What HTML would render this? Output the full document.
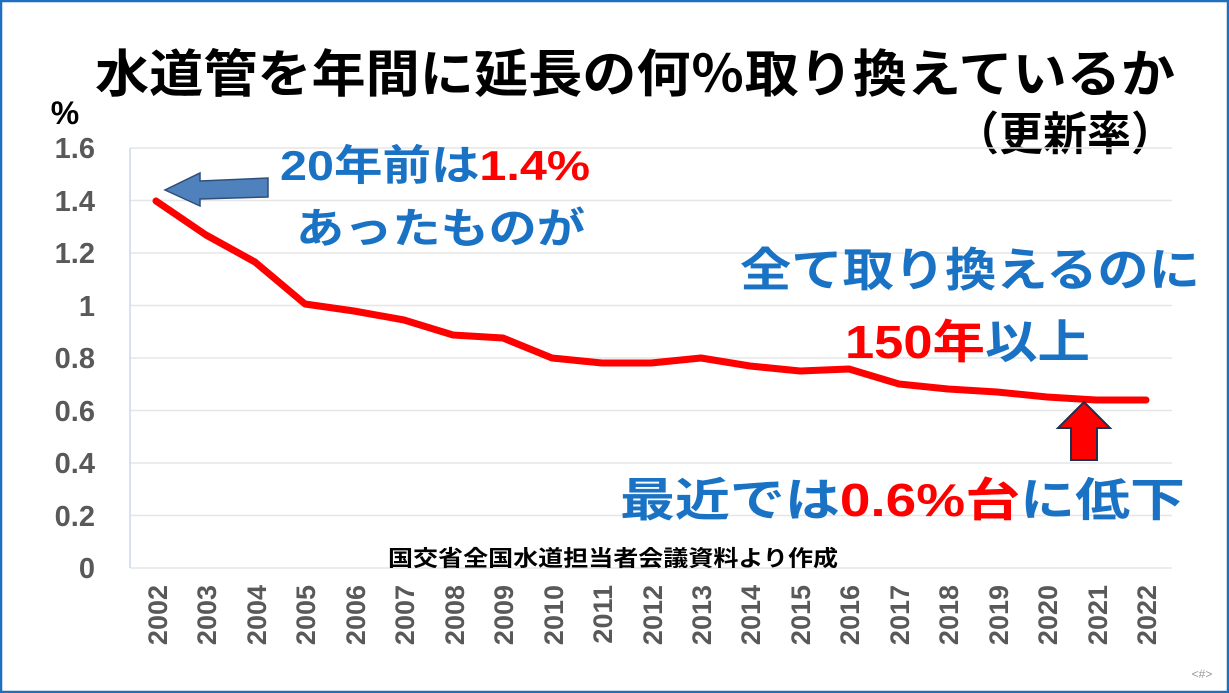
<!DOCTYPE html>
<html><head><meta charset="utf-8"><style>
html,body{margin:0;padding:0;background:#fff}
svg{display:block}
text{font-family:"Liberation Sans","Noto Sans CJK JP",sans-serif;font-weight:bold}
</style></head><body>
<svg width="1229" height="693" viewBox="0 0 1229 693">
<rect x="1" y="1" width="1227" height="691" fill="#fff" stroke="#1f6fc0" stroke-width="2.5"/>
<text x="95" y="92" font-size="51" fill="#000" textLength="1080" lengthAdjust="spacingAndGlyphs">水道管を年間に延長の何％取り換えているか</text>
<text x="955" y="150" font-size="46" fill="#000" textLength="220" lengthAdjust="spacingAndGlyphs">（更新率）</text>
<text x="65" y="124" font-size="32" text-anchor="middle" fill="#000">%</text>
<g stroke="#e6e6e6" stroke-width="1.5">
<line x1="130" y1="148" x2="1172" y2="148"/><line x1="130" y1="200.5" x2="1172" y2="200.5"/>
<line x1="130" y1="253" x2="1172" y2="253"/><line x1="130" y1="305.5" x2="1172" y2="305.5"/>
<line x1="130" y1="358" x2="1172" y2="358"/><line x1="130" y1="410.5" x2="1172" y2="410.5"/>
<line x1="130" y1="463" x2="1172" y2="463"/><line x1="130" y1="515.5" x2="1172" y2="515.5"/>
<line x1="130" y1="568" x2="1172" y2="568"/>
</g>
<line x1="130" y1="148" x2="130" y2="568" stroke="#c8d8ec" stroke-width="1.5"/>
<g font-size="29" fill="#595959" text-anchor="end">
<text x="95" y="158">1.6</text><text x="95" y="211">1.4</text><text x="95" y="263">1.2</text>
<text x="95" y="316">1</text><text x="95" y="368">0.8</text><text x="95" y="421">0.6</text>
<text x="95" y="473">0.4</text><text x="95" y="526">0.2</text><text x="95" y="578">0</text>
</g>
<g font-size="27" fill="#595959" text-anchor="end">
<text transform="translate(167,585) rotate(-90)">2002</text>
<text transform="translate(216,585) rotate(-90)">2003</text>
<text transform="translate(266,585) rotate(-90)">2004</text>
<text transform="translate(315,585) rotate(-90)">2005</text>
<text transform="translate(365,585) rotate(-90)">2006</text>
<text transform="translate(414,585) rotate(-90)">2007</text>
<text transform="translate(464,585) rotate(-90)">2008</text>
<text transform="translate(513,585) rotate(-90)">2009</text>
<text transform="translate(563,585) rotate(-90)">2010</text>
<text transform="translate(612,585) rotate(-90)">2011</text>
<text transform="translate(662,585) rotate(-90)">2012</text>
<text transform="translate(711,585) rotate(-90)">2013</text>
<text transform="translate(760,585) rotate(-90)">2014</text>
<text transform="translate(810,585) rotate(-90)">2015</text>
<text transform="translate(859,585) rotate(-90)">2016</text>
<text transform="translate(909,585) rotate(-90)">2017</text>
<text transform="translate(958,585) rotate(-90)">2018</text>
<text transform="translate(1008,585) rotate(-90)">2019</text>
<text transform="translate(1057,585) rotate(-90)">2020</text>
<text transform="translate(1107,585) rotate(-90)">2021</text>
<text transform="translate(1156,585) rotate(-90)">2022</text>
</g>
<polyline fill="none" stroke="#ff0000" stroke-width="7" stroke-linecap="round" stroke-linejoin="round"
points="156,201 206,235 255,262 305,304 354,311 404,320 453,335 503,338 552,358 602,363 651,363 701,358 750,366 800,371 849,369 899,384 948,389 997,392 1047,397 1096,400 1146,400"/>
<polygon points="268,178 268,197 200,199 200,206 165,190 200,173 200,181" fill="#4f81bd" stroke="#2f4f7a" stroke-width="1.5"/>
<polygon points="1084,402 1110,428 1097,428 1097,460 1071,460 1071,428 1058,428" fill="#ff0000" stroke="#1f2f4f" stroke-width="2"/>
<text x="280" y="180" font-size="42" fill="#1a72c4" textLength="310" lengthAdjust="spacingAndGlyphs">20年前は<tspan fill="#ff0000">1.4%</tspan></text>
<text x="296" y="243" font-size="42" fill="#1a72c4" textLength="289" lengthAdjust="spacingAndGlyphs">あったものが</text>
<text x="740" y="286" font-size="46" fill="#1a72c4" textLength="460" lengthAdjust="spacingAndGlyphs">全て取り換えるのに</text>
<text x="845" y="358" font-size="46" fill="#1a72c4" textLength="245" lengthAdjust="spacingAndGlyphs"><tspan fill="#ff0000">150年</tspan>以上</text>
<text x="620" y="516" font-size="46" fill="#1a72c4" textLength="565" lengthAdjust="spacingAndGlyphs">最近では<tspan fill="#ff0000">0.6%台</tspan>に低下</text>
<text x="388" y="566" font-size="22" fill="#000" textLength="450" lengthAdjust="spacingAndGlyphs">国交省全国水道担当者会議資料より作成</text>
<text x="1202" y="678" font-size="12" text-anchor="middle" fill="#999" style="font-weight:normal">&lt;#&gt;</text>
</svg>
</body></html>
